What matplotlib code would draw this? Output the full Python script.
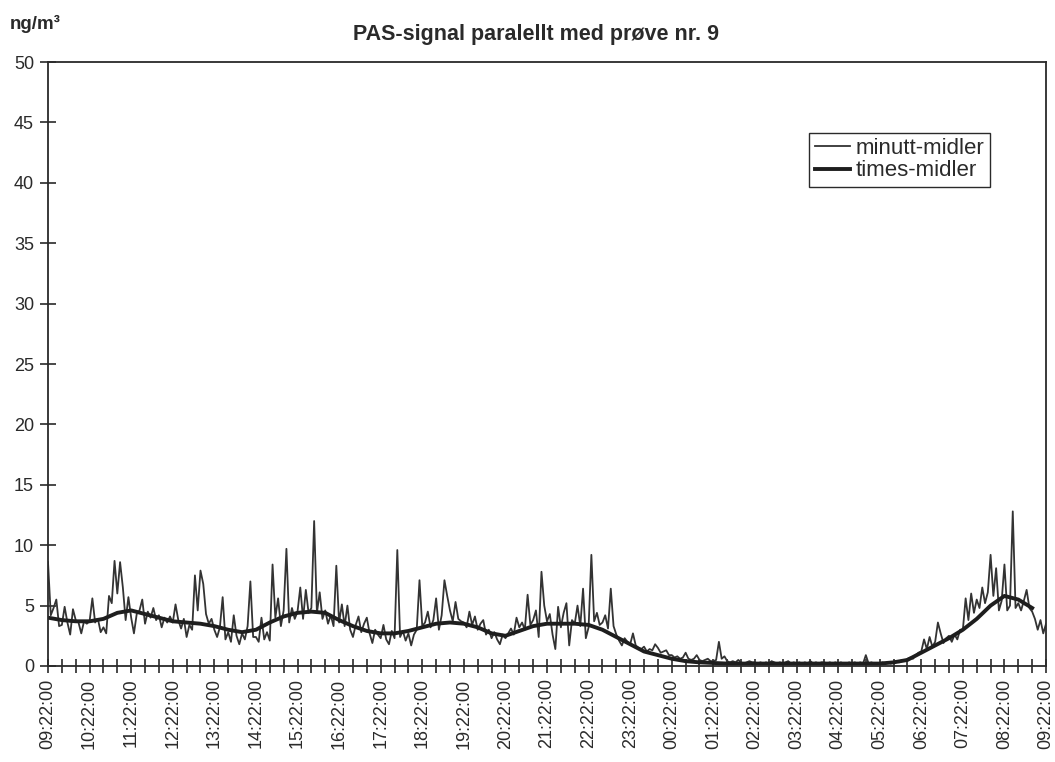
import numpy as np
import matplotlib
matplotlib.use("Agg")
import matplotlib.pyplot as plt
from matplotlib.ticker import MultipleLocator

plt.rcParams['font.family'] = ['Liberation Sans', 'DejaVu Sans']

# minutt-midler, one value every 4 minutes from 09:22 (15 per hour)
minutt = [
    8.6, 4.2, 4.8, 5.5, 3.3, 3.4, 4.9, 3.6, 2.6, 4.7, 3.8, 3.6, 2.7, 3.7, 3.5,
    3.7, 5.6, 3.6, 3.9, 2.8, 3.2, 2.7, 5.8, 5.2, 8.7, 6.0, 8.6, 6.5, 3.8, 5.7,
    4.0, 2.7, 4.3, 4.6, 5.5, 3.5, 4.5, 4.0, 4.8, 3.8, 4.2, 3.2, 4.0, 3.6, 4.1,
    3.6, 5.1, 3.8, 3.1, 3.9, 2.4, 3.4, 3.0, 7.5, 4.6, 7.9, 6.8, 4.3, 3.5, 3.9,
    3.0, 2.4, 3.2, 5.7, 2.2, 2.8, 2.0, 4.2, 2.5, 1.8, 2.7, 2.2, 3.3, 7.0, 2.4,
    2.4, 2.0, 4.0, 2.2, 2.8, 2.1, 8.4, 4.0, 5.6, 3.3, 4.6, 9.7, 3.6, 4.8, 3.9,
    4.5, 6.5, 3.9, 6.3, 4.4, 4.8, 12.0, 4.4, 6.1, 3.9, 4.6, 3.5, 4.2, 3.3, 8.3,
    3.6, 5.1, 3.3, 5.0, 3.0, 2.4, 3.4, 4.1, 2.8, 3.5, 4.0, 2.7, 1.9, 3.0, 2.6,
    2.3, 3.4, 2.2, 1.8, 2.9, 2.3, 9.6, 2.4, 2.9, 2.1, 2.7, 1.7, 2.6, 3.0, 7.1,
    3.3, 3.6, 4.5, 3.2, 3.8, 5.6, 3.0, 4.2, 7.1, 5.8, 4.6, 3.7, 5.3, 3.9, 3.7,
    3.6, 3.2, 4.5, 3.4, 4.1, 3.0, 3.5, 3.8, 2.6, 3.0, 2.3, 2.8, 2.2, 1.8, 2.6,
    2.3, 2.7, 3.1, 2.6, 4.0, 3.2, 3.6, 3.0, 5.9, 3.4, 3.8, 4.6, 2.4, 7.8, 5.0,
    3.7, 4.3, 2.6, 1.4, 4.9, 3.2, 4.4, 5.2, 1.7, 3.8, 3.5, 5.0, 3.3, 6.4, 2.3,
    3.2, 9.2, 3.7, 4.4, 3.4, 3.6, 4.2, 3.1, 6.4, 3.3, 2.6, 2.1, 1.7, 2.3, 2.0,
    1.8, 2.7, 1.7, 1.5, 1.4, 1.6, 1.2, 1.4, 1.3, 1.8, 1.5, 1.1, 1.2, 1.3, 0.9,
    0.9, 0.7, 0.8, 0.6, 0.7, 1.1, 0.6, 0.5, 0.6, 0.9, 0.5, 0.4, 0.5, 0.6, 0.4,
    0.4, 0.5, 2.0, 0.6, 0.8, 0.4, 0.3, 0.4, 0.3, 0.5, 0.3, 0.2, 0.3, 0.4, 0.3,
    0.3, 0.2, 0.3, 0.2, 0.3, 0.2, 0.4, 0.3, 0.2, 0.3, 0.2, 0.3, 0.4, 0.2, 0.3,
    0.2, 0.3, 0.2, 0.3, 0.2, 0.4, 0.2, 0.3, 0.2, 0.3, 0.3, 0.2, 0.3, 0.2, 0.3,
    0.2, 0.3, 0.2, 0.2, 0.3, 0.2, 0.3, 0.2, 0.3, 0.2, 0.9, 0.2, 0.3, 0.2, 0.2,
    0.2, 0.3, 0.2, 0.3, 0.2, 0.3, 0.4, 0.3, 0.5, 0.4, 0.6, 0.7, 0.6, 0.9, 1.1,
    1.2, 2.2, 1.4, 2.4, 1.6, 2.0, 3.6, 2.7, 1.9, 2.3, 2.5, 2.0, 2.6, 2.2, 3.0,
    3.0, 5.6, 3.8, 6.0, 4.4, 5.5, 4.8, 6.5, 5.2, 6.1, 9.2, 5.8, 8.1, 4.6, 5.4,
    8.4, 4.6, 5.0, 12.8, 4.8, 5.2, 4.6, 5.4, 6.3, 4.8, 4.5, 3.9, 3.0, 3.8, 2.7,
    3.5,
]

# times-midler, one value every 20 minutes from 09:22
times = [
    4.0, 3.8, 3.7, 3.7, 3.9, 4.4, 4.6, 4.3, 4.0, 3.7, 3.6, 3.5,
    3.3, 3.0, 2.8, 3.0, 3.6, 4.1, 4.4, 4.5, 4.4, 3.8, 3.3, 2.9,
    2.7, 2.7, 2.9, 3.2, 3.5, 3.6, 3.5, 3.2, 2.7, 2.5, 2.9, 3.3,
    3.5, 3.5, 3.5, 3.4, 3.0, 2.4, 1.8, 1.2, 0.9, 0.6, 0.4, 0.3,
    0.25, 0.2, 0.2, 0.2, 0.2, 0.2, 0.2, 0.2, 0.2, 0.2, 0.2, 0.2,
    0.2, 0.3, 0.5, 1.1, 1.7, 2.3, 3.0, 3.9, 5.0, 5.8, 5.5, 4.8,
]

tid = ['09:22:00', '10:22:00', '11:22:00', '12:22:00', '13:22:00',
       '14:22:00', '15:22:00', '16:22:00', '17:22:00', '18:22:00',
       '19:22:00', '20:22:00', '21:22:00', '22:22:00', '23:22:00',
       '00:22:00', '01:22:00', '02:22:00', '03:22:00', '04:22:00',
       '05:22:00', '06:22:00', '07:22:00', '08:22:00', '09:22:00']

t_min = np.arange(len(minutt)) * 4 / 60
t_hr = np.arange(len(times)) * 20 / 60

ink = '#2a2a2a'
fig = plt.figure(figsize=(10.55, 7.62), dpi=100)
ax = fig.add_axes([0.0455, 0.126, 0.946, 0.7926])

ax.plot(t_min, minutt, color='#333333', lw=1.3, label='minutt-midler')
ax.plot(t_hr, times, color='#1e1e1e', lw=2.8, label='times-midler')

ax.set_xlim(0, 24)
ax.set_ylim(0, 50)
ax.yaxis.set_major_locator(MultipleLocator(5))
ax.set_xticks(np.arange(len(tid)))
ax.set_xticklabels(tid, rotation=90)
ax.xaxis.set_minor_locator(MultipleLocator(1 / 3))

for s in ax.spines.values():
    s.set_color(ink)
    s.set_linewidth(1.3)
ax.tick_params(axis='both', which='both', direction='inout', color=ink,
               width=1.2, labelsize=13, labelcolor=ink)
ax.tick_params(axis='x', which='both', length=10, pad=4)
ax.tick_params(axis='y', which='major', length=12, pad=4)
ax.tick_params(axis='y', which='minor', length=0)

fig.text(0.508, 0.955, 'PAS-signal paralellt med prøve nr. 9', fontsize=15.5,
         fontweight='bold', color=ink, ha='center', va='center')
fig.text(0.009, 0.969, 'ng/m³', fontsize=13.5, fontweight='bold', color=ink,
         va='center', ha='left')

leg = ax.legend(loc='upper right', bbox_to_anchor=(0.944, 0.883),
                fontsize=16, handlelength=1.6, handletextpad=0.25,
                borderpad=0.25, labelspacing=0.05, fancybox=False,
                framealpha=1, borderaxespad=0)
leg.get_frame().set_edgecolor(ink)
leg.get_frame().set_linewidth(1.0)
for txt in leg.get_texts():
    txt.set_color(ink)

fig.savefig('out.png', dpi=100)
